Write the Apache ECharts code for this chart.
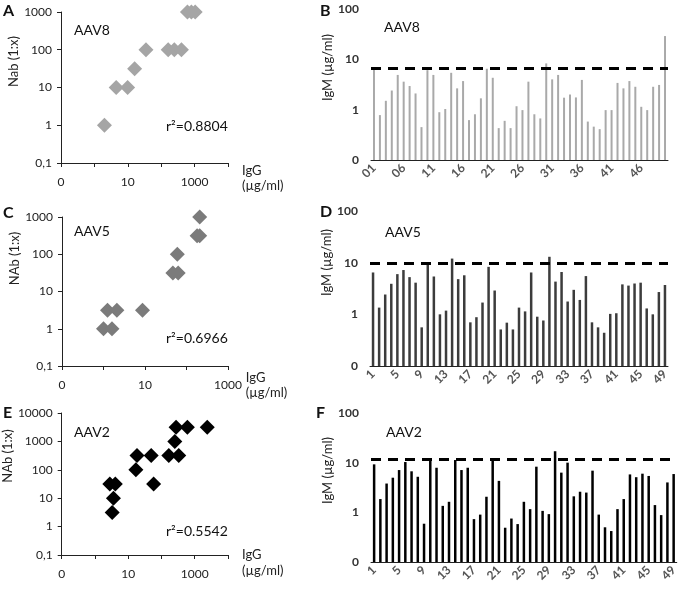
<!DOCTYPE html>
<html>
<head>
<meta charset="utf-8">
<script src="https://cdn.jsdelivr.net/npm/echarts@6/dist/echarts.min.js"></script>
<style>
html, body { margin: 0; padding: 0; background: #fff; }
#main { width: 680px; height: 590px; }
</style>
</head>
<body>
<div id="main"></div>
<script>
// scatter data: IgG (ug/ml) vs NAb titer
var aav8Igg = [2.0, 4.5, 9.9, 16, 35, 162, 247, 403, 610, 800, 1040];
var aav8Nab = [1, 10, 10, 31.6, 100, 100, 100, 100, 1000, 1000, 1000];
var aav5Igg = [1.0, 1.6, 1.25, 2.1, 8.7, 47, 63, 60, 180, 208, 208];
var aav5Nab = [1, 1, 3.16, 3.16, 3.16, 31.6, 31.6, 100, 316, 316, 1000];
var aav2Igg = [3.3, 3.6, 2.8, 4.1, 17, 18.4, 49, 58, 166, 330, 252, 275, 600, 2380];
var aav2Nab = [3.16, 10, 31.6, 31.6, 100, 316, 316, 31.6, 316, 316, 1000, 3162, 3162, 3162];

// IgM per patient
var aav8Igm = [6.5, 0.78, 1.5, 2.4, 4.9, 3.6, 2.95, 2.1, 0.45, 6.1,
               4.9, 0.89, 1.03, 5.4, 2.65, 3.7, 0.62, 0.81, 1.68, 6.5,
               4.3, 0.43, 0.6, 0.43, 1.17, 0.98, 3.6, 0.81, 0.67, 8.3,
               4.0, 4.9, 1.73, 2.0, 1.75, 3.9, 0.58, 0.46, 0.41, 0.98,
               0.98, 3.4, 2.65, 3.7, 2.85, 1.14, 0.98, 2.85, 3.1, 29];
var aav5Igm = [6.46, 1.35, 2.42, 3.9, 6.0, 7.2, 5.25, 4.1, 0.56, 9.7,
               5.4, 1.0, 1.18, 12, 4.8, 5.7, 0.70, 0.88, 1.69, 8.3,
               2.89, 0.51, 0.69, 0.51, 1.35, 1.14, 6.46, 0.90, 0.76, 13,
               4.3, 6.6, 1.77, 2.98, 1.9, 5.5, 0.70, 0.56, 0.44, 1.02,
               1.05, 3.8, 3.6, 3.95, 4.1, 1.3, 1.0, 2.7, 3.7];
var aav2Igm = [9.25, 1.85, 3.8, 4.98, 7.1, 10.3, 6.7, 5.2, 0.59, 11,
               7.9, 1.35, 1.63, 11.3, 7.1, 7.9, 0.73, 0.90, 2.06, 11,
               4.3, 0.49, 0.75, 0.58, 1.63, 1.16, 8.3, 1.07, 0.92, 17,
               6.3, 10, 2.1, 2.6, 2.5, 6.9, 0.90, 0.50, 0.42, 1.16,
               1.85, 5.8, 5.1, 6.0, 5.4, 1.4, 0.88, 4.0, 5.9];
var cutoffs = [6.6, 9.7, 11.9];

var patients50 = [];
for (var i = 1; i <= 50; i++) patients50.push(i < 10 ? '0' + i : '' + i);
var patients49 = [];
for (var j = 1; j <= 49; j++) patients49.push('' + j);

function pairs(xs, ys) {
    var out = [];
    for (var k = 0; k < xs.length; k++) out.push([xs[k], ys[k]]);
    return out;
}

var FONT = 'Lato';
var axisLine = { lineStyle: { color: '#222', width: 1 } };

function scatterX(grid, max, name, vAlign, lh, padTop) {
    return {
        type: 'log', logBase: 10, gridIndex: grid, min: 0.1, max: max,
        splitLine: { show: false },
        axisLine: axisLine,
        axisTick: { length: 4, lineStyle: { color: '#222' } },
        axisLabel: {
            margin: 13, fontSize: 12, color: '#222', fontFamily: FONT,
            formatter: function (v) {
                var e = Math.round(Math.log10(v));
                if (e === -1) return '0';
                if (e === 1 || e === 3) return String(Math.pow(10, e));
                return '';
            }
        },
        name: name, nameLocation: 'end', nameGap: 14,
        nameTextStyle: { fontSize: 13, color: '#222', fontFamily: FONT, align: 'left',
            verticalAlign: vAlign, lineHeight: lh, padding: [padTop, 0, 0, 0] }
    };
}
function scatterY(grid, max, name, pad) {
    return {
        type: 'log', logBase: 10, gridIndex: grid, min: 0.1, max: max,
        splitLine: { show: false },
        axisLine: axisLine,
        axisTick: { length: 4, lineStyle: { color: '#222' } },
        axisLabel: {
            margin: 9, fontSize: 12, color: '#222', fontFamily: FONT,
            formatter: function (v) { return v < 0.5 ? '0,1' : String(Math.round(v)); }
        },
        name: name, nameLocation: 'middle', nameGap: 41,
        nameTextStyle: { fontSize: 13, color: '#222', fontFamily: FONT, padding: [0, 0, 0, pad] }
    };
}
function barX(grid, cats, every) {
    return {
        type: 'category', gridIndex: grid, data: cats,
        axisLine: axisLine,
        axisTick: { show: false },
        axisLabel: { interval: every, rotate: 45, margin: 6, fontSize: 12, fontWeight: 'bold',
            color: '#555', fontFamily: FONT }
    };
}
function barY(grid, pad) {
    return {
        type: 'log', logBase: 10, gridIndex: grid, min: 0.1, max: 100, startValue: 0.1,
        splitLine: { show: false },
        axisLine: axisLine,
        axisTick: { length: 4, lineStyle: { color: '#222' } },
        axisLabel: {
            margin: 12, fontSize: 12, fontWeight: 'bold', color: '#333', fontFamily: FONT,
            formatter: function (v) { return v < 0.5 ? '0' : String(Math.round(v)); }
        },
        name: 'IgM (µg/ml)', nameLocation: 'middle', nameGap: 35,
        nameTextStyle: { fontSize: 13, color: '#222', fontFamily: FONT, padding: [0, 0, 0, pad] }
    };
}
function scatterSeries(idx, data, color) {
    return {
        type: 'scatter', xAxisIndex: idx, yAxisIndex: idx, data: data,
        symbol: 'diamond', symbolSize: 15, itemStyle: { color: color, opacity: 1 }
    };
}
function barSeries(idx, data, color, width, cut) {
    return {
        type: 'bar', xAxisIndex: idx, yAxisIndex: idx, data: data,
        barWidth: width, itemStyle: { color: color },
        markLine: {
            silent: true, symbol: 'none', label: { show: false },
            lineStyle: { color: '#000', type: [10, 7], width: 3 },
            data: [{ yAxis: cut }]
        }
    };
}
function txt(x, y, s, size, weight) {
    return { type: 'text', x: x, y: y,
        style: { text: s, fontSize: size, fontWeight: weight || 'normal', fontFamily: FONT,
            fill: '#111', verticalAlign: 'middle' } };
}

var chart = echarts.init(document.getElementById('main'));
chart.setOption({
    animation: false,
    textStyle: { fontFamily: FONT },
    grid: [
        { left: 61, top: 12, width: 167, height: 151 },
        { left: 371, top: 9, width: 297, height: 151 },
        { left: 62, top: 217, width: 166, height: 149 },
        { left: 370, top: 211, width: 298, height: 155 },
        { left: 61, top: 413, width: 167, height: 142 },
        { left: 371, top: 413, width: 307, height: 149 }
    ],
    xAxis: [
        scatterX(0, 10000, 'IgG\n(µg/ml)', 'top', 15, 0),
        barX(1, patients50, 4),
        scatterX(2, 1000, 'IgG\n(µg/ml)', 'top', 15, 4),
        barX(3, patients49, 3),
        scatterX(4, 10000, '\nIgG\n(µg/ml)', 'middle', 16, 0),
        barX(5, patients49, 3)
    ],
    yAxis: [
        scatterY(0, 1000, 'Nab (1:x)', 52),
        barY(1, 34),
        scatterY(2, 1000, 'NAb (1:x)', 66),
        barY(3, 52),
        scatterY(4, 10000, 'NAb (1:x)', 56),
        barY(5, 34)
    ],
    series: [
        scatterSeries(0, pairs(aav8Igg, aav8Nab), '#a5a5a5'),
        barSeries(1, aav8Igm, '#a9a9a9', 2, cutoffs[0]),
        scatterSeries(2, pairs(aav5Igg, aav5Nab), '#7b7b7b'),
        barSeries(3, aav5Igm, '#3c3c3c', 2.5, cutoffs[1]),
        scatterSeries(4, pairs(aav2Igg, aav2Nab), '#000000'),
        barSeries(5, aav2Igm, '#000000', 2.5, cutoffs[2])
    ],
    graphic: [
        txt(3, 11, 'A', 16, 'bold'),
        txt(320, 11, 'B', 16, 'bold'),
        txt(3, 213, 'C', 16, 'bold'),
        txt(320, 212, 'D', 16, 'bold'),
        txt(3, 413, 'E', 16, 'bold'),
        txt(316, 413, 'F', 16, 'bold'),
        txt(74, 30, 'AAV8', 14),
        txt(74, 231, 'AAV5', 14),
        txt(74, 432, 'AAV2', 14),
        txt(384, 27, 'AAV8', 14),
        txt(385, 232, 'AAV5', 14),
        txt(386, 432, 'AAV2', 14),
        txt(166, 126, 'r²=0.8804', 14),
        txt(166, 338, 'r²=0.6966', 14),
        txt(166, 531, 'r²=0.5542', 14)
    ]
});
</script>
</body>
</html>
